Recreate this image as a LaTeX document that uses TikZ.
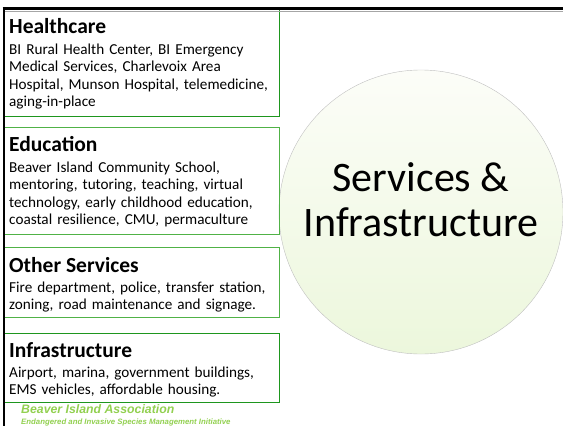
\documentclass[tikz,border=0pt]{standalone}
\usepackage{fontspec}
\setmainfont{Carlito}
\newfontfamily\arialfont{Liberation Sans}
\usetikzlibrary{positioning}
\definecolor{boxgreen}{RGB}{30,150,30}
\definecolor{boxlight}{RGB}{80,178,70}
\definecolor{footgreen}{RGB}{146,208,80}
\definecolor{circtop}{RGB}{252,253,248}
\definecolor{circbot}{RGB}{236,247,220}

\begin{document}
\begin{tikzpicture}[x=1pt, y=-1pt,
    topic/.style={draw=boxgreen, line width=1pt, anchor=north west, inner sep=0pt, minimum width=275pt},
    heading/.style={anchor=base west, inner sep=0pt, font=\fontsize{21.5}{24}\selectfont\bfseries},
    blurb/.style={anchor=base west, align=left, text width=272pt, inner sep=0pt, font=\fontsize{15.2}{17.6}\selectfont},
    footer/.style={anchor=base west, inner sep=0pt, text=footgreen}]
    \useasboundingbox (0,0) rectangle (563,426);

    % Services & Infrastructure hub
    \node[circle, draw=black!25, top color=circtop, bottom color=circbot, minimum size=284pt, inner sep=0pt] (hub) at (421,212) {};
    \node[align=center, inner sep=0pt, font=\fontsize{42}{45}\selectfont] (hubText) at ([yshift=12pt]hub.center) {Services \&\\Infrastructure};

    % Healthcare
    \node[topic, minimum height=107pt] (health) at (4,9) {};
    \node[heading] (healthHead) at (9,33) {Healthcare};
    \node[blurb] (healthText) at (9,54) {BI Rural Health Center, BI Emergency\\Medical Services, Charlevoix Area\\Hospital, Munson Hospital, telemedicine,\\aging-in-place};

    % Education
    \node[topic, draw=boxlight, minimum height=107pt] (edu) at (4,127) {};
    \node[heading] (eduHead) at (9,151) {Education};
    \node[blurb] (eduText) at (9,172) {Beaver Island Community School,\\mentoring, tutoring, teaching, virtual\\technology, early childhood education,\\coastal resilience, CMU, permaculture};

    % Other Services
    \node[topic, draw=boxlight, minimum height=70pt] (other) at (4,247) {};
    \node[heading] (otherHead) at (9,272) {Other Services};
    \node[blurb] (otherText) at (9,292) {Fire department, police, transfer station,\\zoning, road maintenance and signage.};

    % Infrastructure
    \node[topic, minimum height=69pt] (infra) at (4,333) {};
    \node[heading] (infraHead) at (9,357) {Infrastructure};
    \node[blurb] (infraText) at (9,377) {Airport, marina, government buildings,\\EMS vehicles, affordable housing.};

    % Footer
    \node[footer, font=\arialfont\bfseries\itshape\fontsize{12.3}{14}\selectfont] (assoc) at (21,413) {Beaver Island Association};
    \node[footer, font=\arialfont\bfseries\itshape\fontsize{7.8}{9}\selectfont] (initiative) at (21,424) {Endangered and Invasive Species Management Initiative};

    % frame lines
    \draw[black!35, line width=1pt] (4,11) -- (563,11);
    \draw[line width=3pt] (2.5,8.5) -- (563,8.5);
    \draw[line width=2.5pt] (3.8,8) -- (3.8,426);
\end{tikzpicture}
\end{document}
